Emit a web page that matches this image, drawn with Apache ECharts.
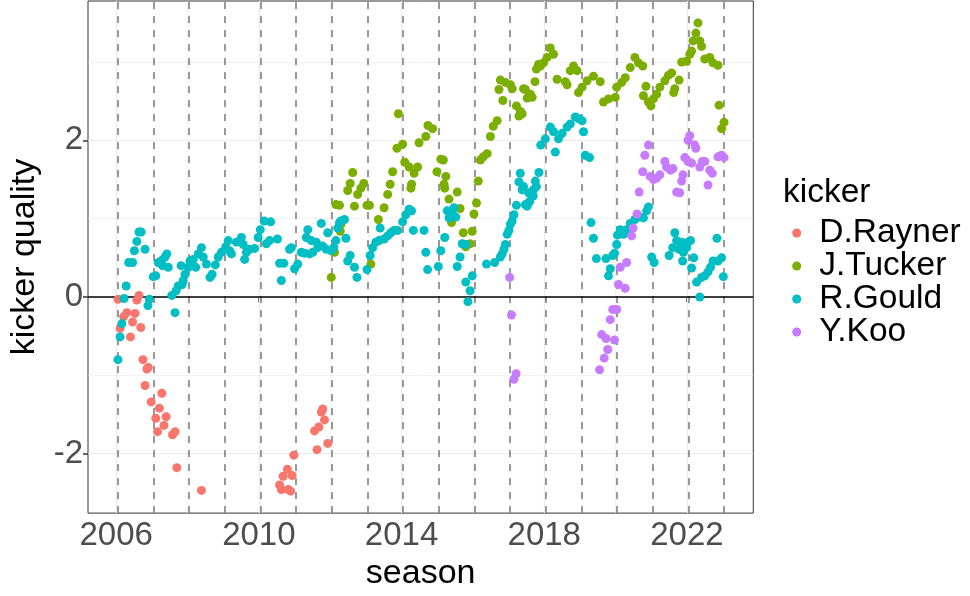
<!DOCTYPE html>
<html><head><meta charset="utf-8">
<script src="https://cdn.jsdelivr.net/npm/echarts@6/dist/echarts.min.js"></script>
<style>html,body{margin:0;padding:0;background:#fff}#c{width:970px;height:596px}</style>
</head><body><div id="c"></div>
<script>
const FONT = '"Liberation Sans", Arial, Helvetica, sans-serif';
const kickers = ['D.Rayner', 'J.Tucker', 'R.Gould', 'Y.Koo'];
const colors = ['#F8766D', '#7CAE00', '#00BFC4', '#C77CFF'];

// [season, kicker quality]
const rayner = [[2006.05,-0.03],[2006.11,-0.40],[2006.21,-0.25],[2006.30,-0.20],[2006.40,-0.51],[2006.46,-0.32],[2006.53,-0.21],[2006.58,-0.04],[2006.64,0.02],[2006.69,-0.39],[2006.75,-0.80],[2006.81,-1.13],[2006.86,-0.92],[2006.90,-0.90],[2006.98,-1.34],[2007.11,-1.55],[2007.16,-1.72],[2007.21,-1.42],[2007.28,-1.23],[2007.34,-1.64],[2007.40,-1.53],[2007.58,-1.76],[2007.65,-1.72],[2007.70,-2.18],[2008.39,-2.47],[2010.58,-2.40],[2010.63,-2.46],[2010.68,-2.29],[2010.80,-2.20],[2010.82,-2.46],[2010.89,-2.48],[2010.93,-2.28],[2010.98,-2.02],[2011.56,-1.71],[2011.63,-1.95],[2011.68,-1.66],[2011.75,-1.47],[2011.79,-1.43],[2011.84,-1.57],[2011.93,-1.87]];

const tucker = [[2012.03,0.25],[2012.12,0.57],[2012.16,1.18],[2012.26,1.17],[2012.28,0.84],[2012.30,0.93],[2012.49,1.36],[2012.56,1.45],[2012.63,1.59],[2012.68,1.16],[2012.77,1.31],[2012.86,1.39],[2012.94,1.45],[2013.03,1.17],[2013.10,1.17],[2013.14,0.42],[2013.35,0.99],[2013.51,1.14],[2013.61,1.31],[2013.68,1.44],[2013.75,1.60],[2013.87,1.90],[2013.91,2.34],[2014.03,1.95],[2014.09,1.72],[2014.21,1.66],[2014.26,1.39],[2014.28,1.44],[2014.35,1.58],[2014.45,1.66],[2014.49,1.97],[2014.68,2.05],[2014.74,2.19],[2014.87,2.15],[2014.99,1.60],[2015.10,1.76],[2015.17,1.75],[2015.19,1.44],[2015.21,1.39],[2015.24,1.54],[2015.33,1.25],[2015.40,0.95],[2015.56,1.34],[2015.64,1.13],[2015.73,0.82],[2015.80,0.64],[2015.92,0.68],[2015.98,0.84],[2016.03,1.06],[2016.10,1.20],[2016.15,1.48],[2016.21,1.75],[2016.29,1.79],[2016.40,1.83],[2016.49,2.05],[2016.57,2.18],[2016.68,2.25],[2016.73,2.65],[2016.77,2.77],[2016.84,2.51],[2016.91,2.74],[2017.05,2.71],[2017.10,2.66],[2017.22,2.44],[2017.29,2.31],[2017.33,2.37],[2017.38,2.34],[2017.42,2.66],[2017.47,2.65],[2017.52,2.54],[2017.61,2.59],[2017.66,2.55],[2017.74,2.75],[2017.78,2.91],[2017.84,2.97],[2017.89,2.95],[2017.98,2.99],[2018.08,3.06],[2018.17,3.18],[2018.26,3.10],[2018.36,2.78],[2018.59,2.75],[2018.64,2.71],[2018.73,2.89],[2018.82,2.95],[2018.92,2.89],[2018.96,2.61],[2019.06,2.68],[2019.20,2.76],[2019.38,2.82],[2019.57,2.75],[2019.66,2.49],[2019.80,2.53],[2019.99,2.55],[2020.03,2.68],[2020.17,2.74],[2020.27,2.80],[2020.41,2.93],[2020.54,3.06],[2020.64,2.99],[2020.76,2.95],[2020.78,2.57],[2020.85,2.69],[2020.92,2.49],[2020.99,2.44],[2021.06,2.53],[2021.15,2.59],[2021.24,2.68],[2021.38,2.76],[2021.48,2.83],[2021.57,2.86],[2021.63,2.61],[2021.66,2.66],[2021.78,2.77],[2021.85,3.00],[2021.99,3.01],[2022.08,3.10],[2022.13,3.14],[2022.17,3.27],[2022.25,3.37],[2022.31,3.50],[2022.36,3.27],[2022.41,3.20],[2022.50,3.04],[2022.64,3.06],[2022.73,2.99],[2022.87,2.96],[2022.90,2.45],[2022.97,2.15],[2023.04,2.23]];

const gould = [[2006.05,-0.80],[2006.11,-0.51],[2006.16,-0.34],[2006.22,-0.02],[2006.28,0.14],[2006.35,0.44],[2006.46,0.44],[2006.51,0.59],[2006.58,0.71],[2006.64,0.83],[2006.70,0.83],[2006.81,0.61],[2006.89,-0.11],[2006.93,-0.03],[2007.04,0.26],[2007.11,0.27],[2007.18,0.44],[2007.28,0.47],[2007.30,0.40],[2007.37,0.51],[2007.42,0.55],[2007.46,0.38],[2007.56,0.02],[2007.65,-0.20],[2007.68,0.08],[2007.74,0.14],[2007.82,0.40],[2007.85,0.16],[2007.88,0.21],[2007.93,0.29],[2008.02,0.38],[2008.07,0.46],[2008.16,0.48],[2008.23,0.38],[2008.30,0.55],[2008.39,0.63],[2008.44,0.51],[2008.53,0.42],[2008.63,0.25],[2008.69,0.29],[2008.78,0.41],[2008.86,0.51],[2008.95,0.57],[2009.07,0.64],[2009.14,0.72],[2009.18,0.59],[2009.23,0.55],[2009.37,0.70],[2009.51,0.76],[2009.56,0.67],[2009.60,0.48],[2009.65,0.57],[2009.74,0.61],[2009.88,0.62],[2009.98,0.76],[2010.04,0.86],[2010.15,0.97],[2010.21,0.68],[2010.30,0.72],[2010.33,0.96],[2010.52,0.74],[2010.58,0.43],[2010.63,0.21],[2010.70,0.43],[2010.86,0.61],[2010.91,0.63],[2011.00,0.36],[2011.09,0.42],[2011.19,0.57],[2011.28,0.56],[2011.33,0.76],[2011.37,0.86],[2011.42,0.55],[2011.47,0.72],[2011.51,0.57],[2011.61,0.70],[2011.65,0.63],[2011.75,0.94],[2011.79,0.65],[2011.89,0.61],[2011.93,0.82],[2012.03,0.59],[2012.10,0.63],[2012.16,0.72],[2012.21,0.88],[2012.26,0.95],[2012.30,0.97],[2012.40,0.99],[2012.44,0.75],[2012.49,0.46],[2012.56,0.53],[2012.68,0.38],[2012.75,0.25],[2013.03,0.35],[2013.12,0.53],[2013.19,0.63],[2013.28,0.70],[2013.37,0.72],[2013.40,0.88],[2013.51,0.74],[2013.61,0.78],[2013.70,0.82],[2013.79,0.85],[2013.89,0.85],[2014.03,0.96],[2014.12,1.05],[2014.21,1.12],[2014.28,1.10],[2014.33,0.85],[2014.63,0.85],[2014.68,0.57],[2014.73,0.35],[2015.03,0.39],[2015.10,0.59],[2015.21,0.76],[2015.28,1.10],[2015.33,1.01],[2015.42,1.07],[2015.47,1.14],[2015.52,1.02],[2015.56,0.39],[2015.64,0.51],[2015.70,0.68],[2015.80,0.67],[2015.80,0.19],[2015.86,-0.06],[2015.92,0.08],[2015.98,0.27],[2016.38,0.42],[2016.61,0.44],[2016.77,0.51],[2016.82,0.55],[2016.87,0.61],[2016.91,0.67],[2016.96,0.80],[2017.01,0.85],[2017.05,0.93],[2017.10,0.97],[2017.15,1.05],[2017.22,1.17],[2017.29,1.47],[2017.33,1.58],[2017.38,1.37],[2017.42,1.41],[2017.47,1.18],[2017.52,1.16],[2017.56,1.33],[2017.59,1.22],[2017.69,1.29],[2017.70,1.37],[2017.75,1.48],[2017.78,1.41],[2017.85,1.59],[2017.90,1.94],[2018.03,2.02],[2018.17,2.17],[2018.26,2.11],[2018.31,1.85],[2018.40,2.02],[2018.50,2.09],[2018.64,2.17],[2018.73,2.21],[2018.87,2.30],[2018.96,2.28],[2019.06,2.25],[2019.10,2.11],[2019.15,1.81],[2019.27,1.78],[2019.31,0.95],[2019.38,0.75],[2019.46,0.49],[2019.73,0.49],[2019.80,0.27],[2019.85,0.36],[2019.92,0.53],[2019.97,0.56],[2020.03,0.67],[2020.05,0.79],[2020.13,0.86],[2020.22,0.80],[2020.31,0.86],[2020.41,0.94],[2020.54,0.99],[2020.68,1.02],[2020.78,1.01],[2020.87,1.10],[2020.92,1.15],[2021.01,0.51],[2021.08,0.44],[2021.50,0.53],[2021.60,0.63],[2021.66,0.82],[2021.71,0.72],[2021.78,0.61],[2021.85,0.70],[2021.88,0.46],[2021.90,0.57],[2021.99,0.63],[2022.03,0.70],[2022.10,0.72],[2022.13,0.37],[2022.19,0.50],[2022.27,0.19],[2022.36,0.00],[2022.41,0.25],[2022.50,0.27],[2022.59,0.32],[2022.66,0.38],[2022.73,0.46],[2022.84,0.75],[2022.87,0.46],[2022.97,0.50],[2023.02,0.26]];

const koo = [[2017.03,0.25],[2017.08,-0.23],[2017.15,-1.05],[2017.21,-0.98],[2019.55,-0.93],[2019.61,-0.48],[2019.68,-0.78],[2019.73,-0.53],[2019.78,-0.67],[2019.85,-0.29],[2019.92,-0.16],[2019.97,-0.55],[2020.03,-0.16],[2020.08,0.16],[2020.13,0.38],[2020.27,0.11],[2020.31,0.44],[2020.45,0.78],[2020.49,0.88],[2020.60,1.06],[2020.66,1.34],[2020.76,1.60],[2020.82,1.81],[2020.92,1.94],[2020.97,1.54],[2021.06,1.50],[2021.15,1.52],[2021.24,1.56],[2021.38,1.73],[2021.43,1.66],[2021.54,1.62],[2021.61,1.64],[2021.71,1.34],[2021.80,1.33],[2021.85,1.48],[2021.89,1.56],[2021.94,1.78],[2022.03,1.73],[2022.03,2.00],[2022.08,2.06],[2022.13,1.71],[2022.22,1.94],[2022.25,1.90],[2022.36,1.66],[2022.43,1.73],[2022.50,1.73],[2022.59,1.43],[2022.64,1.62],[2022.71,1.58],[2022.87,1.79],[2022.97,1.81],[2023.04,1.78]];

const xTicks = [2006, 2010, 2014, 2018, 2022];
const xMinor = [2008, 2012, 2016, 2020];
const yTicks = [-2, 0, 2];
const yMinor = [-1, 1, 3];
const seasonStarts = [2006.035, 2007.035, 2008.035, 2009.035, 2010.035, 2011.035, 2012.035, 2013.035, 2014.035, 2015.035, 2016.035, 2017.035, 2018.035, 2019.035, 2020.035, 2021.035, 2022.035, 2023.035];
const hLine = [0];

const seriesData = [rayner, tucker, gould, koo];

const chart = echarts.init(document.getElementById('c'), null, {renderer: 'canvas'});

function lineSeries(z, items, style) {
  return {
    type: 'scatter', data: [], silent: true, z: z, animation: false,
    markLine: {
      silent: true, animation: false, symbol: ['none', 'none'],
      label: {show: false}, emphasis: {disabled: true},
      lineStyle: style, data: items
    }
  };
}

const series = [
  lineSeries(1, xMinor.map(v => ({xAxis: v})).concat(yMinor.map(v => ({yAxis: v}))), {color: '#EBEBEB', width: 0.6, type: 'solid'}),
  lineSeries(1, xTicks.map(v => ({xAxis: v})).concat(yTicks.map(v => ({yAxis: v}))), {color: '#EBEBEB', width: 1.2, type: 'solid'}),
  lineSeries(2, seasonStarts.map(v => ({xAxis: v})), {color: '#7F7F7F', width: 1.6, type: [7, 7]}),
  lineSeries(2, hLine.map(v => ({yAxis: v})), {color: '#000000', width: 1.6, type: 'solid'})
];
kickers.forEach((k, i) => {
  series.push({
    name: k, type: 'scatter', data: seriesData[i], symbol: 'circle', symbolSize: 9,
    itemStyle: {color: colors[i], opacity: 1}, z: 5, animation: false
  });
});

chart.setOption({
  animation: false,
  backgroundColor: '#ffffff',
  textStyle: {fontFamily: FONT},
  grid: {left: 86, top: 1, width: 667.3, height: 517.3, show: true, borderColor: '#333333', borderWidth: 1, backgroundColor: 'transparent'},
  xAxis: {
    type: 'value', min: 2005.21, max: 2023.86,
    splitLine: {show: false}, axisLine: {show: false},
    axisTick: {show: true, length: 5, customValues: xTicks, lineStyle: {color: '#333333', width: 1.5}},
    axisLabel: {customValues: xTicks, margin: 6, color: '#4D4D4D', fontSize: 33, fontFamily: FONT, formatter: v => String(v)},
    name: 'season', nameLocation: 'middle', nameGap: 42,
    nameTextStyle: {fontSize: 34, color: '#000000', fontFamily: FONT}
  },
  yAxis: {
    type: 'value', min: -2.76, max: 3.78,
    splitLine: {show: false}, axisLine: {show: false},
    axisTick: {show: true, length: 5, customValues: yTicks, lineStyle: {color: '#333333', width: 1.5}},
    axisLabel: {customValues: yTicks, margin: 5, color: '#4D4D4D', fontSize: 33, fontFamily: FONT, formatter: v => String(v)},
    name: 'kicker quality', nameLocation: 'middle', nameGap: 46, nameRotate: 90,
    nameTextStyle: {fontSize: 34, color: '#000000', fontFamily: FONT}
  },
  legend: {
    show: true, orient: 'vertical', left: 792.2, top: 216, padding: 0,
    itemWidth: 9, itemHeight: 9, itemGap: -1, icon: 'circle', selectedMode: false,
    textStyle: {fontSize: 33.5, lineHeight: 32, color: '#000000', fontFamily: FONT, padding: [0, 0, 0, 13]},
    data: kickers
  },
  graphic: [{
    type: 'text', left: 783, top: 175.4,
    style: {text: 'kicker', fontSize: 33.5, fill: '#000000', font: '33.5px ' + FONT}
  }],
  series: series
});
</script></body></html>
